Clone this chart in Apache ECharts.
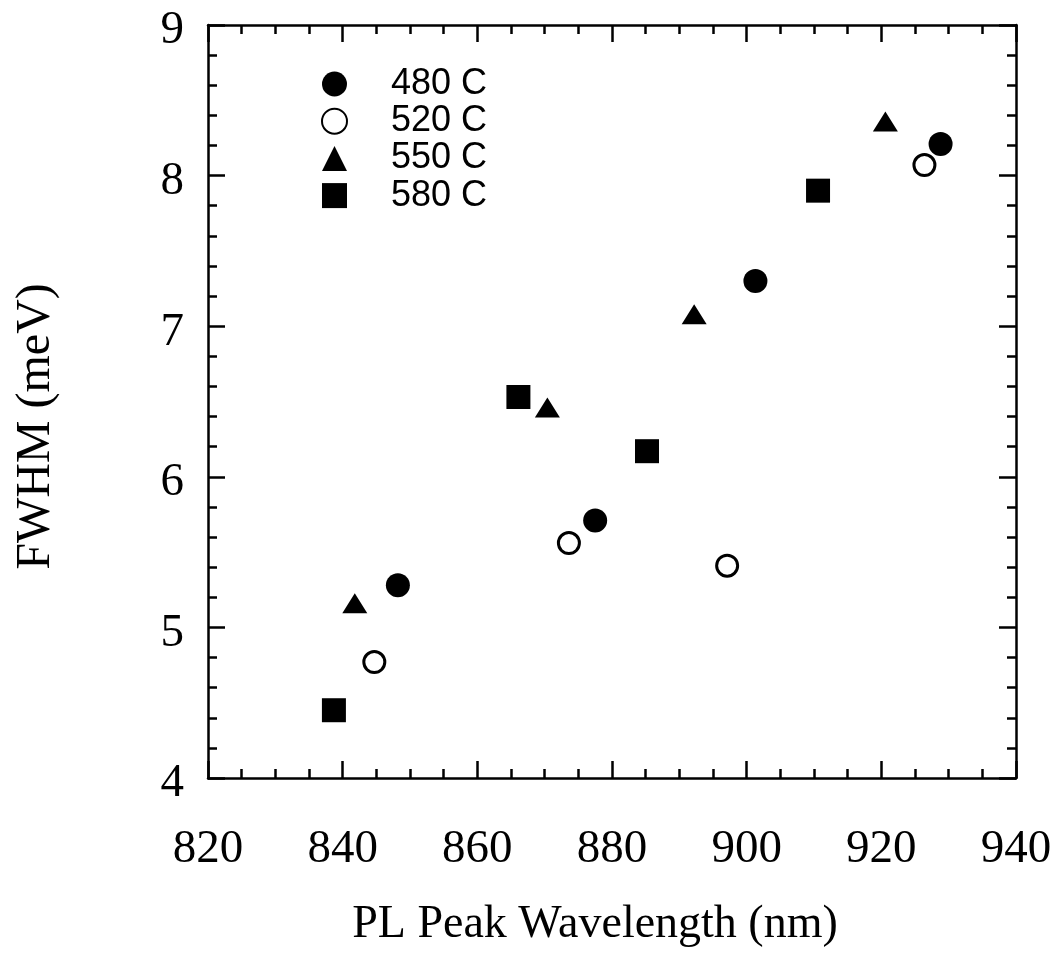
<!DOCTYPE html>
<html>
<head>
<meta charset="utf-8">
<script src="https://cdn.jsdelivr.net/npm/echarts@6/dist/echarts.min.js"></script>
<style>
  html, body { margin: 0; padding: 0; background: #fff; }
  #chart { width: 1061px; height: 953px; }
</style>
</head>
<body>
<div id="chart"></div>
<script>
  // PL peak wavelength (nm) vs FWHM (meV), one array pair per growth temperature
  var seriesNames = ['480 C', '520 C', '550 C', '580 C'];
  var wl480 = [848.2, 877.5, 901.3, 928.8];
  var fw480 = [5.28, 5.71, 7.30, 8.21];
  var wl520 = [844.7, 873.6, 897.1, 926.4];
  var fw520 = [4.77, 5.56, 5.41, 8.07];
  var wl550 = [841.8, 870.4, 892.2, 920.6];
  var fw550 = [5.16, 6.46, 7.08, 8.36];
  var wl580 = [838.7, 866.1, 885.2, 910.6];
  var fw580 = [4.45, 6.53, 6.17, 7.90];

  function pairs(xs, ys) {
    var out = [];
    for (var i = 0; i < xs.length; i++) out.push([xs[i], ys[i]]);
    return out;
  }

  var serif = 'Liberation Serif';
  var axisLineStyle = { color: '#000', width: 2.5 };

  function xAxisOf(pos, labels) {
    return {
      type: 'value', position: pos, min: 820, max: 940, interval: 20,
      axisLine: { show: true, onZero: false, lineStyle: axisLineStyle },
      axisTick: { show: true, inside: true, length: 17, lineStyle: { color: '#000', width: 2.5 } },
      minorTick: { show: true, splitNumber: 4, length: 9, lineStyle: { color: '#000', width: 2.5 } },
      splitLine: { show: false },
      axisLabel: { show: labels, margin: 48, color: '#000', fontFamily: serif, fontSize: 47 },
      name: labels ? 'PL Peak Wavelength (nm)' : '',
      nameLocation: 'middle', nameGap: 124,
      nameTextStyle: { color: '#000', fontFamily: serif, fontSize: 46, padding: [0, 34, 0, 0] }
    };
  }
  function yAxisOf(pos, labels) {
    return {
      type: 'value', position: pos, min: 4, max: 9, interval: 1,
      axisLine: { show: true, onZero: false, lineStyle: axisLineStyle },
      axisTick: { show: true, inside: true, length: 17, lineStyle: { color: '#000', width: 2.5 } },
      minorTick: { show: true, splitNumber: 5, length: 9, lineStyle: { color: '#000', width: 2.5 } },
      splitLine: { show: false },
      axisLabel: {
        show: labels, margin: 24,
        formatter: function (v) { return '{a|' + v + '}'; },
        rich: { a: { color: '#000', fontFamily: serif, fontSize: 47, padding: [12, 0, 0, 0] } }
      },
      name: labels ? 'FWHM (meV)' : '',
      nameLocation: 'middle', nameGap: 148,
      nameTextStyle: { color: '#000', fontFamily: serif, fontSize: 48, padding: [0, 50, 0, 0] }
    };
  }

  var chart = echarts.init(document.getElementById('chart'));
  chart.setOption({
    backgroundColor: '#fff',
    animation: false,
    grid: { left: 208, right: 45, top: 25, bottom: 173 },
    legend: {
      orient: 'vertical', left: 316, top: 61,
      itemWidth: 25, itemHeight: 25, itemGap: 1.2,
      data: seriesNames,
      textStyle: { color: '#000', fontFamily: 'Liberation Sans', fontSize: 36, lineHeight: 36, padding: [0, 0, 0, 39] }
    },
    xAxis: [xAxisOf('bottom', true), xAxisOf('top', false)],
    yAxis: [yAxisOf('left', true), yAxisOf('right', false)],
    series: [
      { name: seriesNames[0], type: 'scatter', symbol: 'circle', symbolSize: 24,
        itemStyle: { color: '#000', opacity: 1 }, data: pairs(wl480, fw480) },
      { name: seriesNames[1], type: 'scatter', symbol: 'circle', symbolSize: 21,
        itemStyle: { color: '#fff', borderColor: '#000', borderWidth: 3, opacity: 1 }, data: pairs(wl520, fw520) },
      { name: seriesNames[2], type: 'scatter', symbol: 'triangle', symbolSize: [25, 20],
        itemStyle: { color: '#000', opacity: 1 }, data: pairs(wl550, fw550) },
      { name: seriesNames[3], type: 'scatter', symbol: 'rect', symbolSize: 24,
        itemStyle: { color: '#000', opacity: 1 }, data: pairs(wl580, fw580) }
    ]
  });
</script>
</body>
</html>
